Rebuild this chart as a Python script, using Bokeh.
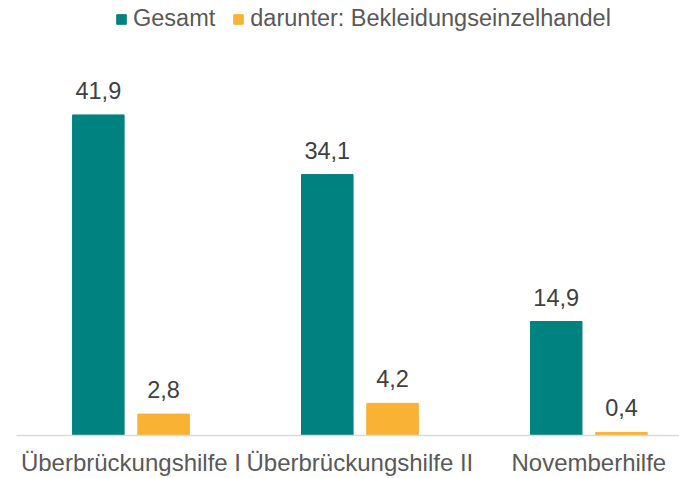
from bokeh.plotting import figure
from bokeh.models import ColumnDataSource, LabelSet, FixedTicker, Range1d
from bokeh.core.properties import value
from bokeh.embed import file_html
from bokeh.resources import INLINE

categories = ["Überbrückungshilfe I", "Überbrückungshilfe II", "Novemberhilfe"]
gesamt = [41.9, 34.1, 14.9]
bekleidung = [2.8, 4.2, 0.4]
series_names = ["Gesamt", "darunter: Bekleidungseinzelhandel"]

TEAL = "#008280"
ORANGE = "#F9B233"
FONT = "Liberation Sans"

xs = list(range(len(categories)))
off = 0.1425
w = 0.225

src1 = ColumnDataSource(dict(x=[i - off for i in xs], y=gesamt,
                             t=[f"{v:.1f}".replace(".", ",") for v in gesamt]))
src2 = ColumnDataSource(dict(x=[i + off for i in xs], y=bekleidung,
                             t=[f"{v:.1f}".replace(".", ",") for v in bekleidung]))

p = figure(width=679, height=478, output_backend="svg", toolbar_location=None,
           x_range=Range1d(-0.5, 2.396), y_range=Range1d(0, 56.86),
           min_border_left=16, min_border_right=0, min_border_top=0, min_border_bottom=43)

p.vbar(x="x", top="y", width=w, source=src1, color=TEAL, legend_label=series_names[0])
p.vbar(x="x", top="y", width=w, source=src2, color=ORANGE, legend_label=series_names[1])

for s in (src1, src2):
    p.add_layout(LabelSet(x="x", y="y", text="t", source=s, text_align="center",
                          text_baseline="alphabetic", y_offset=16,
                          text_font=value(FONT), text_font_size=value("23.5px"),
                          text_color="#404040"))

p.outline_line_color = None
p.xgrid.visible = False
p.ygrid.visible = False
p.yaxis.visible = False

ax = p.xaxis[0]
ax.ticker = FixedTicker(ticks=xs)
ax.major_label_overrides = {i: c for i, c in zip(xs, categories)}
ax.major_tick_line_color = None
ax.minor_tick_line_color = None
ax.major_tick_out = 0
ax.major_tick_in = 0
ax.axis_line_color = "#d9d9d9"
ax.axis_line_width = 1.5
ax.major_label_standoff = 13
ax.major_label_text_font = FONT
ax.major_label_text_font_size = "24px"
ax.major_label_text_color = "#595959"

lg = p.legend[0]
lg.orientation = "horizontal"
lg.location = (99, 403)
lg.border_line_color = None
lg.background_fill_alpha = 0
lg.padding = 0
lg.margin = 0
lg.spacing = 17
lg.glyph_width = 12
lg.glyph_height = 12
lg.label_standoff = 6
lg.label_text_font = FONT
lg.label_text_font_size = "23.5px"
lg.label_text_color = "#595959"

open("out.html", "w").write(file_html(p, INLINE))
